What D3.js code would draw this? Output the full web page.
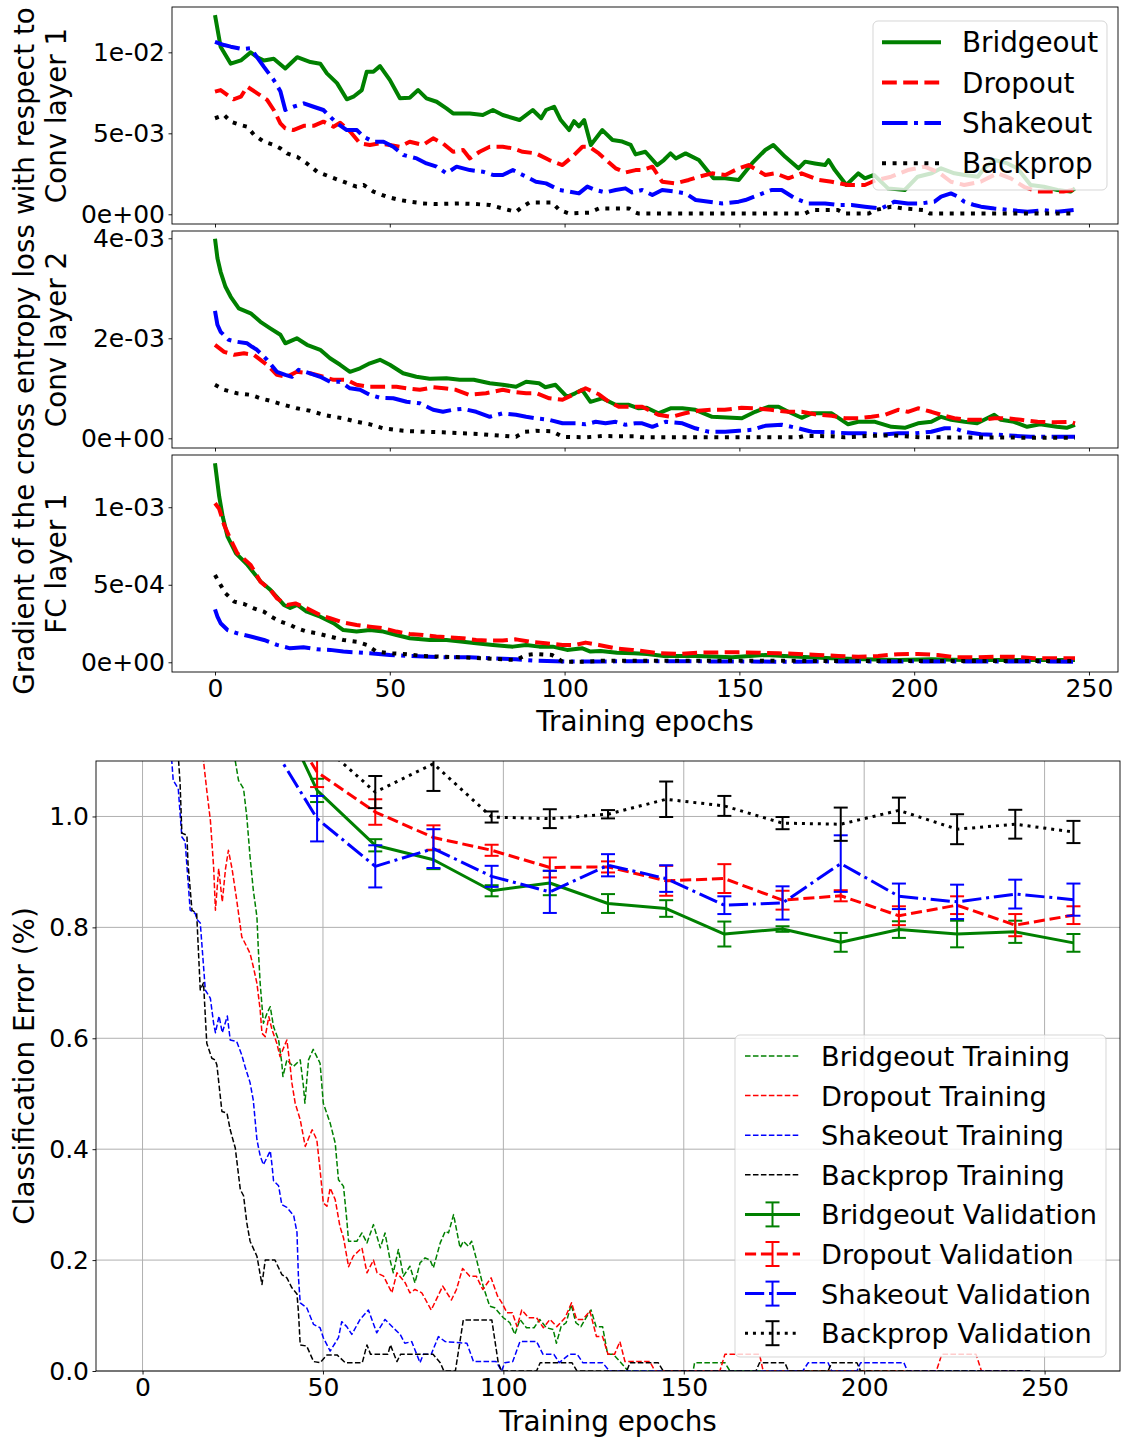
<!DOCTYPE html>
<html><head><meta charset="utf-8">
<script src="https://cdn.jsdelivr.net/npm/d3@7"></script>
<style>body{margin:0;background:#fff}svg{display:block}</style>
</head><body><svg id="c" width="1125" height="1439"></svg>
<script>
// ---------------- DATA ----------------
const methods = ["Bridgeout","Dropout","Shakeout","Backprop"];
const colors = ["#008000","#ff0000","#0000ff","#000000"];

// Gradient w.r.t. Conv layer 1 (units of 1e-3), [epoch, value]
const conv1Scale = 1e-3;
const conv1Bridgeout = [[0,12.3],[1.6,10.35],[4.5,9.3],[7.4,9.5],[10.2,10.0],[12.1,9.7],[14,9.5],[16.8,9.6],[20.1,9.0],[23.5,9.7],[27.3,9.4],[30.1,9.3],[32,8.7],[34.9,8.1],[37.7,7.1],[39.6,7.26],[42,7.67],[43.4,8.8],[45.3,8.8],[47.2,9.15],[50,8.3],[52.9,7.16],[55.7,7.2],[58.1,7.67],[60.5,7.16],[63.4,6.95],[66.2,6.54],[68.1,6.23],[72.9,6.23],[76.6,6.13],[79.5,6.44],[82.3,6.13],[87.1,5.82],[90.9,6.44],[93.3,5.93],[94.7,6.44],[97,6.64],[98.9,5.82],[101.3,5.2],[102.7,5.75],[104.1,5.43],[105.6,5.82],[107.5,4.28],[110.8,5.2],[113.7,4.59],[116.5,4.49],[118.9,4.28],[120.3,3.7],[123.1,3.86],[126.5,3.04],[128.4,3.35],[130.3,3.76],[131.8,3.45],[134.6,3.76],[138.4,3.35],[142.6,2.22],[145.9,2.22],[149.8,2.12],[153.6,3.14],[157.4,3.97],[159.7,4.28],[163.1,3.55],[166.9,2.84],[168.8,3.25],[171.6,3.14],[174.5,3.04],[175.5,3.35],[177.3,2.73],[180.6,1.81],[184,2.53],[185.9,2.22],[188.5,2.43],[192.5,1.6],[197.3,1.5],[201,2.32],[205,2.53],[207.7,2.84],[211.5,2.53],[214.4,2.43],[218.2,2.32],[220,2.84],[222.9,3.35],[226.7,3.14],[229.5,2.84],[233.3,1.81],[237.1,1.7],[241,1.5],[244.7,1.4],[246,1.6]];
const conv1Dropout = [[0,7.57],[1.6,7.67],[5.3,7.1],[7.4,7.26],[9.2,7.88],[12.1,7.47],[14.9,7.06],[16.8,6.44],[18.7,5.62],[20.1,5.31],[22.4,5.2],[25.4,5.46],[28.2,5.46],[31,5.72],[33.9,5.41],[35.8,5.65],[38.7,5.1],[41.5,4.38],[44.3,4.28],[47.2,4.38],[50,4.28],[52.9,4.17],[55.7,4.48],[59.5,4.28],[62.4,4.69],[65.2,4.38],[68.1,3.86],[71,3.97],[72.9,3.45],[75.7,3.86],[78.6,4.17],[82.3,4.17],[85.2,4.07],[88,3.86],[91.8,3.76],[95.6,3.35],[99.4,3.04],[102.2,3.55],[105.1,4.17],[107,4.17],[109.8,3.76],[112.7,3.2],[114.6,2.84],[117.4,2.58],[120.3,2.73],[122.2,2.73],[125.1,2.94],[127.9,2.01],[131.7,1.91],[135.5,2.12],[138.4,2.32],[142.2,2.53],[146,2.43],[149.8,2.84],[152.6,3.04],[157.4,2.43],[160.3,2.53],[164,2.22],[167.8,2.53],[172.6,2.12],[176.4,2.01],[181.1,1.81],[185.9,1.81],[189,2.1],[193.4,2.32],[198.2,2.73],[202.9,2.94],[206.7,2.63],[210.5,2.01],[214.3,1.81],[219,2.01],[223.8,2.53],[227.6,2.22],[231.4,1.7],[235.2,1.4],[239,1.4],[242.7,1.4],[245.5,1.5]];
const conv1Shakeout = [[0,10.65],[2.6,10.45],[4.5,10.35],[7.8,10.2],[10.2,10.25],[11.7,9.8],[14,9.1],[16.8,8.29],[18.7,7.6],[20.1,6.44],[22.4,6.64],[25.4,6.85],[28.2,6.64],[31,6.44],[32.9,6.03],[34.9,5.62],[37.7,5.2],[40.6,5.2],[42.5,4.79],[45.3,4.48],[48.2,4.48],[51,4.17],[53.9,3.66],[57.7,3.45],[60.5,3.14],[63.4,2.94],[66.2,2.53],[69.1,2.94],[72.9,2.73],[76.6,2.63],[79.5,2.43],[82.3,2.43],[85.2,2.73],[88,2.43],[91.8,2.01],[94.7,1.91],[98.5,1.5],[101.3,1.4],[104.1,1.29],[106.5,1.71],[108.9,1.5],[111.7,1.35],[114.6,1.5],[117.4,1.6],[119.3,1.35],[122.2,1.5],[125.1,1.19],[127.9,1.5],[131.7,1.4],[134.6,1.29],[137.5,0.88],[141.3,0.78],[145.1,0.67],[149.8,0.78],[151.7,0.88],[155.5,1.19],[159.2,1.5],[162.1,1.5],[165.9,0.98],[169.7,0.67],[174.5,0.67],[178.2,0.57],[182.1,0.57],[185.9,0.47],[190.6,0.36],[194.4,0.78],[198.2,0.67],[202,0.67],[205.8,0.78],[207.7,1.09],[210.5,1.29],[212.5,1.09],[214.3,0.78],[217.2,0.57],[219.1,0.47],[222.9,0.36],[227.6,0.26],[232.4,0.15],[237.1,0.26],[241,0.15],[245.6,0.26]];
const conv1Backprop = [[0,5.93],[2.6,6.13],[4.5,5.72],[7.4,5.51],[9.2,5.41],[11.2,4.9],[14,4.48],[16.8,4.28],[18.7,4.07],[20.6,3.76],[23.5,3.55],[26.3,3.14],[29.2,2.63],[32.9,2.32],[36.7,2.01],[40.5,1.71],[42.5,1.81],[45.3,1.4],[49.1,1.09],[52.9,0.88],[55.7,0.78],[59.5,0.67],[63.4,0.63],[70,0.67],[74.6,0.63],[78.6,0.57],[82.3,0.36],[86.1,0.15],[88,0.47],[89.9,0.72],[96.5,0.72],[98.5,0.26],[101.3,0.05],[107,0.1],[109.8,0.36],[118.4,0.36],[119.8,0.15],[121,0.05],[168.8,0.05],[170.7,0.26],[178.2,0.26],[180,0.05],[187,0.05],[188.8,0.26],[193.4,0.47],[197,0.36],[202.9,0.26],[204.5,0.05],[246,0.05]];

// Gradient w.r.t. Conv layer 2 (units of 1e-4)
const conv2Scale = 1e-4;
const conv2Bridgeout = [[0,39.9],[0.7,36],[1.6,33.3],[3,30.3],[4.5,28.3],[6.8,26],[10.2,25],[13,23.3],[15.8,22],[18.7,20.7],[20.1,19],[23.4,20],[26.3,18.7],[30.1,17.7],[32.9,16],[35.8,14.7],[38.6,13.3],[41.5,14],[44.3,15],[47.2,15.7],[50,14.7],[53.8,13],[57.6,12.3],[61.4,11.9],[66.2,12],[70,11.7],[74,11.7],[78.6,11],[82.3,10.7],[86.1,10.3],[89,11.3],[92.7,11],[94.5,10.2],[97.4,10.7],[100.7,8.3],[103,9],[105,9.7],[107.4,7.3],[110.7,8],[114.6,6.7],[118.4,6.7],[121.2,6],[123.5,6.1],[126.8,5],[130.3,6],[133.7,6],[137.4,5.7],[142.2,4.3],[147.9,4.1],[150.7,4],[154.5,5.3],[158.3,6.3],[161.2,6.3],[164,5.3],[167.8,4.1],[170.7,5],[176.4,5],[181.1,2.8],[184,3.3],[188.8,3.3],[193.5,2.3],[197.3,2.1],[201.1,3],[204.9,3.3],[207.7,4.3],[210.6,3.7],[214.4,3.3],[218,3],[222.9,4.7],[224.8,3.7],[228.5,3.3],[232.3,2.3],[236,2.8],[240.8,2.3],[243.6,2.1],[246,2.7]];
const conv2Dropout = [[0,18.7],[2.6,17.3],[5.5,16.7],[8.3,17],[11.1,16.7],[14.9,14.7],[17.7,12.7],[20.6,12.3],[23.4,13.3],[27.2,13],[31,12.3],[33.9,11.7],[37.7,11.7],[40.5,10.7],[44.3,10.3],[48,10.3],[51.9,10.3],[54.8,10],[58.6,9.7],[62.4,10.2],[65.5,10],[68.9,9.7],[72.7,8.7],[77.5,9],[82.3,9.7],[85,9.3],[89,9],[92,9],[95.6,8],[99.4,7.7],[103.2,9],[106,10],[109.8,8.8],[112.7,7.3],[115.5,6.3],[119.3,6.3],[122.2,6.3],[126.8,4.7],[130.6,4.3],[134.4,5],[138.2,5.5],[142,5.7],[145.8,5.7],[150.6,6.1],[154.4,6],[159,5.7],[163.9,5.3],[167.8,5.3],[171.6,4.8],[176.4,4.5],[180.2,4],[184,4],[187.8,4.3],[191.6,4.7],[195.4,5.7],[198.2,5.3],[201.1,6],[204.9,5.3],[207.7,4.7],[211.5,4],[215.3,3.7],[219,3.7],[223,4],[226.8,4],[230.5,3.7],[235.3,3.3],[240,3.2],[244.7,3.3],[246,3.0]];
const conv2Shakeout = [[0,25.5],[0.7,22.7],[1.6,21.3],[3.9,19.7],[6.3,19.3],[9.2,19],[10.6,18.3],[12,17.7],[14.9,15.7],[17.7,13.3],[20.1,12.7],[22,12.3],[23.9,13.7],[27.2,13],[30.1,12.3],[32.9,11.3],[35.8,11.3],[38.6,10],[41.5,9.7],[44.3,8.7],[47.2,8.1],[51,8],[54.8,7.3],[58.6,7],[62.4,5.7],[65.2,5.3],[68,5.7],[70.9,5.9],[74.7,5.3],[78.6,4.3],[82.3,5],[86.1,4.7],[89,4.3],[91.8,4],[95.6,3.7],[99.4,3],[103.2,3],[106,2.8],[108.9,3.3],[111.7,3],[114.6,3.3],[117.4,2.7],[120.3,3],[122.2,3],[125.1,2.3],[128.9,3.3],[133.7,3],[137.4,2],[141.3,1.3],[146,1.3],[149.8,1.5],[153.6,1.7],[157.4,2.5],[162.1,2.7],[166.9,2],[170.7,1.3],[176.4,1.2],[181.1,1],[185.9,1],[190.6,0.7],[195.4,1],[200.1,1],[204.9,1.3],[208.7,2],[211.5,2],[214.4,1.3],[219.1,0.8],[223.9,0.7],[228.6,0.5],[233.3,0.3],[238,0.3],[246,0.3]];
const conv2Backprop = [[0,10.7],[2.6,9.7],[6.3,9],[10.2,8.7],[13,8],[15.8,7.5],[19.6,6.7],[23.4,6],[27.2,5.5],[31,4.7],[33.9,4.3],[36.7,4],[40.5,3.3],[44.3,2.8],[48.1,2],[53.9,1.5],[59.5,1.3],[65.2,1.2],[70.9,1],[76.6,0.8],[82.3,0.5],[86.1,0.3],[88.5,1.3],[91.8,1.5],[96.5,1.4],[99.4,0.3],[106,0.2],[110.7,0.45],[120.2,0.4],[122,0.2],[167,0.2],[168.8,0.5],[176.4,0.4],[180,0.2],[187.8,0.5],[193.5,0.6],[197.3,0.4],[202,0.2],[246,0.1]];

// Gradient w.r.t. FC layer 1 (units of 1e-4)
const fc1Scale = 1e-4;
const fc1Bridgeout = [[0,12.84],[1.2,10.7],[2.2,9.4],[3.6,8.1],[6,7.03],[9.3,6.28],[13.1,5.2],[15.9,4.66],[19.7,3.7],[21.5,3.5],[23.5,3.7],[26.3,3.26],[30.1,2.94],[33.9,2.52],[36.7,2.08],[40.5,1.98],[44.3,2.08],[48.1,1.98],[51.9,1.76],[55.7,1.55],[61.4,1.44],[66.2,1.44],[70.9,1.33],[74.7,1.23],[79.5,1.12],[85.2,1.01],[89,1.12],[92.8,1.01],[96.6,1.01],[100.7,0.8],[105.1,0.9],[107.4,0.69],[110.3,0.73],[115,0.62],[119.8,0.58],[123.6,0.54],[128.4,0.41],[138,0.41],[147.9,0.32],[157.4,0.47],[166.9,0.36],[176.4,0.26],[185.9,0.19],[195.4,0.15],[204.9,0.19],[214.4,0.15],[246,0.15]];
const fc1Dropout = [[0,10.26],[1.2,9.9],[2.6,8.86],[4.5,7.9],[6.4,7.03],[10.2,6.28],[13,5.2],[15.9,4.66],[17.7,4.13],[20.6,3.7],[23,3.8],[26.3,3.48],[30.1,3.05],[32.9,2.84],[36.7,2.56],[40.5,2.41],[44.3,2.3],[48.1,2.2],[51.9,1.98],[55.7,1.83],[59.5,1.76],[63.3,1.66],[67.1,1.61],[70.9,1.55],[74.7,1.44],[78.5,1.4],[82.3,1.4],[86.1,1.48],[89.9,1.33],[94.6,1.23],[99.4,1.12],[103.2,1.12],[106,1.27],[109.8,1.12],[114.6,0.9],[119.3,0.8],[121.4,0.75],[127.1,0.58],[132.8,0.54],[138.4,0.62],[144.1,0.64],[149.8,0.64],[155.5,0.62],[161.2,0.58],[166.9,0.54],[172.6,0.47],[178.3,0.41],[184,0.36],[189.7,0.41],[195.3,0.52],[201,0.54],[206.7,0.47],[211.6,0.32],[217.3,0.32],[223,0.36],[228.7,0.36],[234.4,0.26],[240.1,0.26],[246,0.26]];
const fc1Shakeout = [[0,3.42],[0.7,2.94],[1.6,2.52],[3.6,2.08],[6.4,1.87],[10.2,1.66],[14,1.44],[17.7,1.12],[21.5,0.9],[25.3,0.97],[29.1,0.84],[32.9,0.8],[36.7,0.69],[40.5,0.64],[44.3,0.58],[50,0.47],[55.7,0.41],[61.4,0.36],[67.1,0.32],[72.8,0.32],[78.5,0.26],[86.1,0.19],[91.8,0.1],[101.3,0.05],[130,0.07],[160,0.04],[200,0.06],[246,0.04]];
const fc1Backprop = [[0,5.63],[1.6,4.99],[3,4.45],[5.5,3.91],[8.3,3.76],[11.1,3.48],[14,3.26],[15.8,2.98],[18.7,2.62],[21.5,2.41],[23.4,2.2],[26.3,1.98],[29.1,1.87],[32.9,1.66],[36.7,1.44],[40.5,1.33],[43.4,1.12],[46.2,0.69],[50,0.58],[53.8,0.54],[59.5,0.41],[65.2,0.36],[70.9,0.32],[76.6,0.26],[82.3,0.19],[86.1,0.15],[89,0.47],[91.8,0.54],[96.4,0.47],[99.4,0.04],[106,0.04],[110.7,0.1],[246,0.08]];

const conv1TickValues = [0, 0.005, 0.01], conv1TickLabels = ["0e+00","5e-03","1e-02"];
const conv2TickValues = [0, 0.002, 0.004], conv2TickLabels = ["0e+00","2e-03","4e-03"];
const fc1TickValues = [0, 0.0005, 0.001], fc1TickLabels = ["0e+00","5e-04","1e-03"];
const epochTickValues = [0,50,100,150,200,250];

// Classification error (%) — training curves, [epoch, value]
const trainBridgeout = [[0,6.0],[10,3.0],[20,1.6],[25.7,1.1],[26.6,1.065],[28,1.05],[28.9,0.999],[29.8,0.927],[30.7,0.867],[31.7,0.819],[32.1,0.759],[32.6,0.699],[33.5,0.627],[34.5,0.645],[35.4,0.657],[36.3,0.621],[37.7,0.597],[38.6,0.555],[38.9,0.531],[40,0.561],[41.8,0.549],[43.7,0.561],[44.6,0.513],[45,0.483],[46,0.561],[47.3,0.58],[49.2,0.555],[50.1,0.483],[52,0.447],[53.4,0.411],[54.3,0.345],[55.7,0.333],[56.6,0.273],[57.1,0.234],[59.4,0.234],[60.8,0.249],[62.2,0.231],[64,0.264],[65.9,0.222],[67.2,0.249],[68.6,0.2],[69.5,0.177],[70.9,0.219],[72.3,0.171],[74.1,0.189],[75.5,0.159],[76.9,0.195],[78.3,0.204],[79.7,0.2],[80.6,0.186],[82.5,0.231],[83.9,0.252],[84.8,0.249],[86.2,0.282],[88,0.222],[88.9,0.234],[90.3,0.225],[91.2,0.234],[92.6,0.2],[94.4,0.153],[96.2,0.117],[97.6,0.114],[100,0.096],[101.8,0.087],[103.2,0.066],[104.6,0.093],[106.4,0.078],[108.5,0.078],[110.1,0.093],[111.9,0.078],[113.8,0.075],[114.7,0.05],[116,0.08],[117.4,0.087],[118.8,0.12],[120.1,0.087],[121.5,0.08],[122.9,0.096],[124.3,0.11],[125.7,0.08],[127.5,0.08],[128.9,0.03],[130.5,0.03],[132.3,0.017],[134.6,0],[152.6,0],[153,0.015],[161.4,0.015],[162.8,0],[246,0]];
const trainDropout = [[0,7.0],[10,2.5],[15,1.4],[16.9,1.1],[17.8,1.047],[18.8,0.993],[19.7,0.909],[20.2,0.831],[21.1,0.906],[22.1,0.846],[23,0.906],[23.8,0.939],[24.8,0.906],[26.1,0.849],[27.5,0.783],[28.9,0.765],[29.8,0.753],[30.7,0.729],[31.7,0.699],[32.6,0.651],[33.1,0.609],[34,0.603],[35,0.639],[35.9,0.615],[37.2,0.591],[38.1,0.567],[40,0.597],[40.9,0.55],[41.4,0.519],[42.3,0.483],[43.7,0.453],[45.1,0.405],[47,0.435],[48.3,0.417],[49.2,0.363],[50.1,0.303],[51.1,0.297],[52,0.33],[53.4,0.309],[54.7,0.261],[55.7,0.24],[57.1,0.188],[58.4,0.207],[59.8,0.216],[60.8,0.222],[62.2,0.177],[64,0.2],[65,0.177],[66.8,0.171],[69.1,0.141],[70.5,0.177],[72.8,0.159],[74.1,0.141],[75.5,0.147],[77.4,0.141],[80,0.11],[83.2,0.153],[85.6,0.128],[87,0.147],[88.7,0.185],[90.7,0.171],[92.5,0.171],[94.3,0.147],[96.6,0.168],[98.4,0.135],[99.6,0.123],[101,0.105],[102.5,0.105],[103.8,0.08],[105.1,0.11],[107,0.096],[109.2,0.096],[111.1,0.078],[112.9,0.093],[114.8,0.08],[117.1,0.096],[118.9,0.123],[120.3,0.093],[122,0.093],[124,0.108],[125.8,0.062],[127.5,0.062],[129,0.03],[130.8,0.03],[132.3,0.053],[133.7,0.017],[140.6,0.017],[142,0],[160,0],[161.4,0.03],[171,0.03],[172,0],[220,0],[221.5,0.03],[231,0.03],[232.5,0],[246,0]];
const trainShakeout = [[0,8.0],[5,2.5],[8.1,1.1],[8.5,1.065],[9.9,1.05],[10.9,0.963],[11.8,0.955],[13.2,0.831],[14.6,0.825],[15.1,0.814],[16,0.808],[17.4,0.687],[18.8,0.672],[19.7,0.627],[20.2,0.61],[21.2,0.64],[22.1,0.61],[23.5,0.64],[24.3,0.597],[26.1,0.594],[27.5,0.57],[28.4,0.549],[29.8,0.52],[30.7,0.488],[31.7,0.417],[32.6,0.388],[33.5,0.372],[34.5,0.385],[35.4,0.397],[35.9,0.37],[36.3,0.343],[37.7,0.334],[38.6,0.3],[40,0.295],[41.9,0.28],[42.8,0.25],[43.2,0.17],[43.7,0.123],[45.5,0.114],[47.4,0.084],[49.2,0.078],[50.1,0.06],[52,0.036],[54.3,0.06],[55.2,0.089],[56.6,0.08],[58,0.066],[60.3,0.093],[62.6,0.11],[64.9,0.069],[67.2,0.093],[69.5,0.078],[71.4,0.066],[72.7,0.05],[74.6,0.053],[76.9,0.015],[77.8,0.03],[80,0.03],[82,0.062],[83.9,0.053],[89.9,0.05],[91.7,0.017],[98,0.017],[99.5,0],[100.4,0.015],[102.6,0.017],[104.6,0.053],[109.2,0.053],[111,0.03],[114,0.03],[115.5,0.015],[118.3,0.03],[120.5,0.03],[122,0.015],[127.5,0.015],[129.4,0],[183,0],[184.5,0.015],[190,0.015],[191,0],[198,0],[199,0.015],[211,0.015],[212,0],[246,0]];
const trainBackprop = [[0,9.0],[5,3.0],[9,1.25],[10,1.1],[10.4,1.06],[10.9,0.97],[12.3,0.966],[12.6,0.915],[13.7,0.831],[15,0.825],[16,0.687],[16.9,0.70],[17.8,0.591],[19.2,0.564],[20.1,0.561],[20.6,0.552],[22,0.468],[23.4,0.465],[24.3,0.435],[25.7,0.402],[27.1,0.327],[28,0.316],[28.9,0.267],[29.8,0.234],[31.7,0.207],[33.1,0.156],[34,0.2],[36.7,0.2],[38.6,0.174],[40,0.168],[41.4,0.15],[42.8,0.139],[43.2,0.107],[43.7,0.047],[45.5,0.045],[47.4,0.017],[49.2,0.015],[51.1,0.029],[53.9,0.029],[56.2,0.015],[60.9,0.015],[62.2,0.047],[63.2,0.03],[68,0.03],[68.7,0.047],[70.5,0.017],[71.5,0.03],[80.5,0.03],[82.5,0.015],[83.5,0],[86.7,0],[88.9,0.092],[96.8,0.092],[98.6,0.014],[99.5,0],[109.2,0],[110.2,0.015],[119,0.015],[120.4,0],[134.2,0],[135.1,0.015],[142.9,0.015],[144.3,0],[170,0],[171,0.015],[178,0.015],[179,0],[190,0],[191,0.015],[198,0.015],[199,0],[246,0]];

// Validation curves with error bars
const valEpochs = [0,16.125,32.25,48.375,64.5,80.625,96.75,112.875,129,145.125,161.25,177.375,193.5,209.625,225.75,241.875,258];
const valBridgeout = [6.5,2.2,1.27,1.047,0.948,0.922,0.866,0.880,0.843,0.834,0.788,0.797,0.773,0.796,0.788,0.792,0.772];
const errBridgeout = [0.1,0.05,0.03,0.021,0.011,0.017,0.010,0.022,0.017,0.015,0.0225,0.005,0.017,0.015,0.024,0.02,0.016];
const valDropout = [7.0,2.5,1.25,1.08,1.008,0.962,0.939,0.908,0.909,0.884,0.888,0.849,0.857,0.821,0.840,0.804,0.822];
const errDropout = [0.1,0.05,0.03,0.027,0.023,0.022,0.01,0.018,0.01,0.027,0.026,0.017,0.01,0.017,0.016,0.02,0.016];
const valShakeout = [8.0,2.3,1.167,0.996,0.910,0.942,0.892,0.864,0.912,0.888,0.840,0.844,0.915,0.856,0.846,0.860,0.850];
const errShakeout = [0.1,0.05,0.04,0.041,0.038,0.035,0.019,0.038,0.02,0.024,0.016,0.03,0.051,0.023,0.031,0.026,0.029];
const valBackprop = [9.0,2.8,1.35,1.137,1.044,1.095,0.999,0.996,1.004,1.031,1.019,0.988,0.986,1.011,0.977,0.986,0.972];
const errBackprop = [0.1,0.05,0.03,0.03,0.029,0.049,0.01,0.017,0.0075,0.032,0.018,0.011,0.03,0.023,0.027,0.026,0.02];

const errTickValues = [0,0.2,0.4,0.6,0.8,1.0];
const errTickLabels = ["0.0","0.2","0.4","0.6","0.8","1.0"];
const trainLegend = ["Bridgeout Training","Dropout Training","Shakeout Training","Backprop Training"];
const valLegend = ["Bridgeout Validation","Dropout Validation","Shakeout Validation","Backprop Validation"];

// ---------------- DRAWING ----------------
const FONT = '"DejaVu Sans", "Liberation Sans", sans-serif';
const TICK_FS = 25, LABEL_FS = 27.8, LEG2_FS = 27.2;
const svg = d3.select("#c");
const defs = svg.append("defs");

function dashFor(i, lw){
  if(i===0) return null;
  if(i===1) return [3.7*lw,1.6*lw].join(",");
  if(i===2) return [6.4*lw,1.6*lw,1*lw,1.6*lw].join(",");
  return [1*lw,1.65*lw].join(",");
}

function styleAxis(g){
  g.select(".domain").remove();
  g.selectAll(".tick line").attr("stroke","#000").attr("stroke-width",0.9);
  g.selectAll(".tick text").attr("font-family",FONT).attr("font-size",TICK_FS).attr("fill","#000");
}

// Gradient panels
const GL = 172, GR = 1118;
const gx = d3.scaleLinear().domain([-12.3, 258.3]).range([GL, GR]);
const panels = [
  {top:7, bottom:224, dom:[-0.0006,0.0128], scale:conv1Scale, data:[conv1Bridgeout,conv1Dropout,conv1Shakeout,conv1Backprop], tv:conv1TickValues, tl:conv1TickLabels, label:"Conv layer 1"},
  {top:231, bottom:448, dom:[-0.000194,0.004146], scale:conv2Scale, data:[conv2Bridgeout,conv2Dropout,conv2Shakeout,conv2Backprop], tv:conv2TickValues, tl:conv2TickLabels, label:"Conv layer 2"},
  {top:455, bottom:672, dom:[-0.0000626,0.001337], scale:fc1Scale, data:[fc1Bridgeout,fc1Dropout,fc1Shakeout,fc1Backprop], tv:fc1TickValues, tl:fc1TickLabels, label:"FC layer 1"}
];
panels.forEach((p, pi) => {
  const y = d3.scaleLinear().domain(p.dom).range([p.bottom, p.top]);
  const cid = "clipP"+pi;
  defs.append("clipPath").attr("id",cid).append("rect")
    .attr("x",GL).attr("y",p.top).attr("width",GR-GL).attr("height",p.bottom-p.top);
  const g = svg.append("g").attr("clip-path",`url(#${cid})`);
  const line = d3.line().x(d=>gx(d[0])).y(d=>y(d[1]*p.scale));
  p.data.forEach((s,i)=>{
    g.append("path").attr("d",line(s)).attr("fill","none")
      .attr("stroke",colors[i]).attr("stroke-width",4)
      .attr("stroke-dasharray",dashFor(i,4))
      .attr("stroke-linejoin","round").attr("stroke-linecap","butt");
  });
  svg.append("rect").attr("x",GL).attr("y",p.top).attr("width",GR-GL).attr("height",p.bottom-p.top)
    .attr("fill","none").attr("stroke","#000").attr("stroke-width",0.9);
  const ya = svg.append("g").attr("transform",`translate(${GL},0)`)
    .call(d3.axisLeft(y).tickValues(p.tv).tickFormat((d,i)=>p.tl[i]).tickSizeOuter(0).tickSize(3.5).tickPadding(3.5));
  styleAxis(ya);
  const xa = svg.append("g").attr("transform",`translate(0,${p.bottom})`)
    .call(d3.axisBottom(gx).tickValues(epochTickValues).tickFormat(pi===2? d3.format("d") : ()=>"").tickSizeOuter(0).tickSize(3.5).tickPadding(3.5));
  styleAxis(xa);
  svg.append("text").attr("transform",`translate(66,${(p.top+p.bottom)/2}) rotate(-90)`)
    .attr("text-anchor","middle").attr("font-family",FONT).attr("font-size",LABEL_FS).text(p.label);
});
svg.append("text").attr("transform",`translate(34,351) rotate(-90)`)
  .attr("text-anchor","middle").attr("font-family",FONT).attr("font-size",LABEL_FS)
  .text("Gradient of the cross entropy loss with respect to");
svg.append("text").attr("x",(GL+GR)/2).attr("y",731).attr("text-anchor","middle")
  .attr("font-family",FONT).attr("font-size",LABEL_FS).text("Training epochs");

// Legend for gradient panels
(function(){
  const lx=873, ly=21, lw=234, lh=169;
  svg.append("rect").attr("x",lx).attr("y",ly).attr("width",lw).attr("height",lh).attr("rx",5)
    .attr("fill","#fff").attr("fill-opacity",0.8).attr("stroke","#cccccc").attr("stroke-opacity",0.8);
  methods.forEach((m,i)=>{
    const yy = 42.3 + i*40.3;
    svg.append("line").attr("x1",882).attr("x2",941).attr("y1",yy).attr("y2",yy)
      .attr("stroke",colors[i]).attr("stroke-width",4).attr("stroke-dasharray",dashFor(i,4));
    svg.append("text").attr("x",962).attr("y",yy+10).attr("font-family",FONT).attr("font-size",LABEL_FS).text(m);
  });
})();

// Classification error chart
const BL=96, BR=1120, BT=761, BB=1371;
const bx = d3.scaleLinear().domain([-12.9, 270.9]).range([BL, BR]);
const by = d3.scaleLinear().domain([0, 1.1]).range([BB, BT]);
defs.append("clipPath").attr("id","clipB").append("rect").attr("x",BL).attr("y",BT).attr("width",BR-BL).attr("height",BB-BT);
// grid
const grid = svg.append("g");
epochTickValues.forEach(v=>grid.append("line").attr("x1",bx(v)).attr("x2",bx(v)).attr("y1",BT).attr("y2",BB).attr("stroke","#b0b0b0").attr("stroke-width",1));
errTickValues.forEach(v=>grid.append("line").attr("x1",BL).attr("x2",BR).attr("y1",by(v)).attr("y2",by(v)).attr("stroke","#b0b0b0").attr("stroke-width",1));

const bg = svg.append("g").attr("clip-path","url(#clipB)");
const bline = d3.line().x(d=>bx(d[0])).y(d=>by(d[1]));
[trainBridgeout,trainDropout,trainShakeout,trainBackprop].forEach((s,i)=>{
  bg.append("path").attr("d",bline(s)).attr("fill","none").attr("stroke",colors[i])
    .attr("stroke-width",1.5).attr("stroke-dasharray",dashFor(1,1.5)).attr("stroke-linejoin","round");
});
const vals=[valBridgeout,valDropout,valShakeout,valBackprop];
const errs=[errBridgeout,errDropout,errShakeout,errBackprop];
vals.forEach((vs,i)=>{
  const pts = valEpochs.map((e,k)=>[e,vs[k]]);
  bg.append("path").attr("d",bline(pts)).attr("fill","none").attr("stroke",colors[i])
    .attr("stroke-width",3).attr("stroke-dasharray",dashFor(i,3)).attr("stroke-linejoin","round");
  valEpochs.forEach((e,k)=>{
    const xx=bx(e), y1=by(vs[k]-errs[i][k]), y2=by(vs[k]+errs[i][k]);
    bg.append("line").attr("x1",xx).attr("x2",xx).attr("y1",y1).attr("y2",y2).attr("stroke",colors[i]).attr("stroke-width",2);
    [y1,y2].forEach(yc=>bg.append("line").attr("x1",xx-7).attr("x2",xx+7).attr("y1",yc).attr("y2",yc).attr("stroke",colors[i]).attr("stroke-width",2));
  });
});
svg.append("rect").attr("x",BL).attr("y",BT).attr("width",BR-BL).attr("height",BB-BT)
  .attr("fill","none").attr("stroke","#000").attr("stroke-width",0.9);
const bya = svg.append("g").attr("transform",`translate(${BL},0)`)
  .call(d3.axisLeft(by).tickValues(errTickValues).tickFormat((d,i)=>errTickLabels[i]).tickSizeOuter(0).tickSize(3.5).tickPadding(3.5));
styleAxis(bya);
const bxa = svg.append("g").attr("transform",`translate(0,${BB})`)
  .call(d3.axisBottom(bx).tickValues(epochTickValues).tickFormat(d3.format("d")).tickSizeOuter(0).tickSize(3.5).tickPadding(3.5));
styleAxis(bxa);
svg.append("text").attr("x",(BL+BR)/2).attr("y",1431).attr("text-anchor","middle")
  .attr("font-family",FONT).attr("font-size",LABEL_FS).text("Training epochs");
svg.append("text").attr("transform",`translate(34,${(BT+BB)/2}) rotate(-90)`)
  .attr("text-anchor","middle").attr("font-family",FONT).attr("font-size",LABEL_FS).text("Classification Error (%)");

// Legend for classification chart
(function(){
  const lx=735, ly=1035, lw=371, lh=322;
  svg.append("rect").attr("x",lx).attr("y",ly).attr("width",lw).attr("height",lh).attr("rx",5)
    .attr("fill","#fff").attr("fill-opacity",0.8).attr("stroke","#cccccc").attr("stroke-opacity",0.8);
  const labels = trainLegend.concat(valLegend);
  labels.forEach((t,j)=>{
    const yy = 1056 + j*39.6;
    const i = j%4, isVal = j>=4;
    svg.append("line").attr("x1",745).attr("x2",800).attr("y1",yy).attr("y2",yy)
      .attr("stroke",colors[i]).attr("stroke-width",isVal?3:1.5)
      .attr("stroke-dasharray",isVal?dashFor(i,3):dashFor(1,1.5));
    if(isVal){
      svg.append("line").attr("x1",772.5).attr("x2",772.5).attr("y1",yy-12).attr("y2",yy+12).attr("stroke",colors[i]).attr("stroke-width",2);
      [yy-12,yy+12].forEach(yc=>svg.append("line").attr("x1",765.5).attr("x2",779.5).attr("y1",yc).attr("y2",yc).attr("stroke",colors[i]).attr("stroke-width",2));
    }
    svg.append("text").attr("x",821).attr("y",yy+10).attr("font-family",FONT).attr("font-size",LEG2_FS).text(t);
  });
})();
</script></body></html>
